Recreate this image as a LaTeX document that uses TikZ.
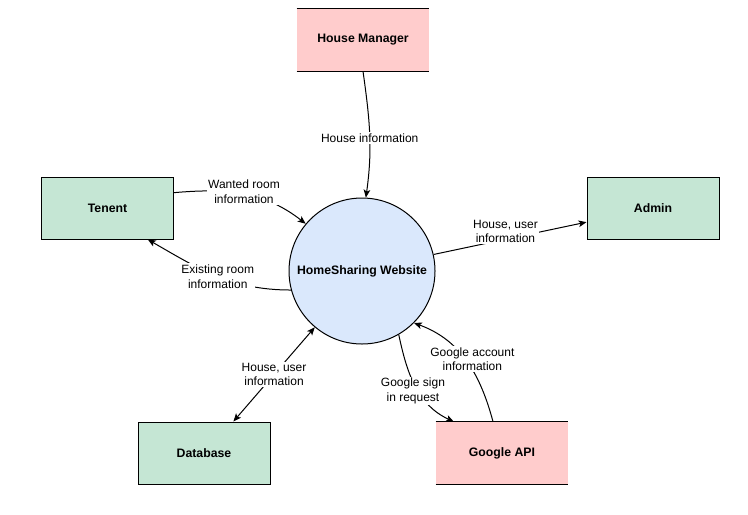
\documentclass[tikz,border=0pt]{standalone}
\usepackage{fontspec}
\setmainfont{Liberation Sans}
\usetikzlibrary{arrows.meta}
\definecolor{entitygreen}{RGB}{197,230,212}
\definecolor{entitypink}{RGB}{255,204,204}
\definecolor{processblue}{RGB}{218,232,252}
\begin{document}
\begin{tikzpicture}[x=0.75pt,y=-0.75pt,
        entity/.style={draw,fill=entitygreen,line width=0.75pt,minimum width=99pt,minimum height=46.5pt,font=\fontsize{9.2}{11}\selectfont\bfseries},
        extern/.style={fill=entitypink,minimum width=99pt,minimum height=46.5pt,font=\fontsize{9.2}{11}\selectfont\bfseries},
        process/.style={circle,draw,fill=processblue,line width=0.75pt,minimum size=109.5pt,inner sep=0pt,font=\fontsize{9.2}{11}\selectfont\bfseries},
        flow/.style={line width=0.75pt,-{Stealth[length=6pt,width=5pt,inset=1.5pt]}},
        flowlabel/.style={fill=white,inner sep=1pt,align=center,font=\fontsize{9}{11}\selectfont}]
        \useasboundingbox (0,0) rectangle (748,514);
        %% process
        \node[process] (web) at (362,271) {HomeSharing Website};
        %% entities
        \node[extern] (manager) at (363,40) {House Manager};
        \node[entity] (tenent) at (107.5,208) {Tenent};
        \node[entity] (admin) at (653,208) {Admin};
        \node[entity] (database) at (204,453) {Database};
        \node[extern] (google) at (502,453) {Google API};
        \draw[line width=0.75pt] (manager.north west) -- (manager.north east) (manager.south west) -- (manager.south east);
        \draw[line width=0.75pt] (google.north west) -- (google.north east) (google.south west) -- (google.south east);
        %% flows
        \draw[flow] (manager.south) to[out=-82,in=82] node[pos=0.53,flowlabel] {House information} (web.87);
        \draw[flow] (tenent.13) to[out=5,in=142] node[pos=0.5,flowlabel,yshift=2pt] {Wanted room\\information} (web.140);
        \draw[flow] (web.195) to[out=180,in=-30] node[pos=0.49,flowlabel] {Existing room\\information} (tenent.-38);
        \draw[flow] (web.13) -- node[pos=0.47,flowlabel,yshift=6pt] {House, user\\information} (admin.192);
        \draw[flow,{Stealth[length=6pt,width=5pt,inset=1.5pt]}-{Stealth[length=6pt,width=5pt,inset=1.5pt]}] (database.47) -- node[pos=0.5,flowlabel] {House, user\\information} (web.230);
        \draw[flow] (web.300) to[out=-78,in=155] node[pos=0.55,flowlabel,xshift=-4pt] {Google sign\\in request} (google.147);
        \draw[flow] (google.106) to[out=105,in=-20] node[pos=0.45,flowlabel,xshift=2pt,yshift=5pt] {Google account\\information} (web.315);
    \end{tikzpicture}
\end{document}
